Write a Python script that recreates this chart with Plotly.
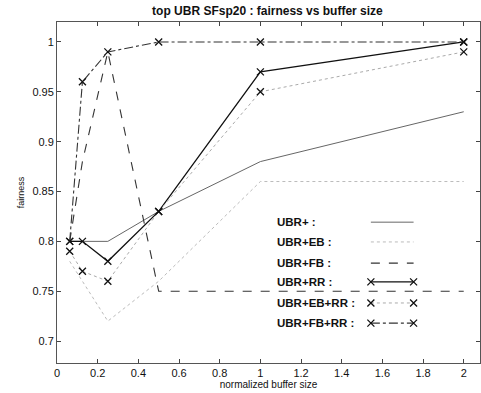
import plotly.graph_objects as go

buffer_size = [0.0625, 0.125, 0.25, 0.5, 1.0, 2.0]
ubr = [0.80, 0.80, 0.80, 0.83, 0.88, 0.93]
ubr_eb = [0.78, 0.76, 0.72, 0.76, 0.86, 0.86]
ubr_fb = [0.80, 0.88, 0.99, 0.75, 0.75, 0.75]
ubr_rr = [0.80, 0.80, 0.78, 0.83, 0.97, 1.00]
ubr_eb_rr = [0.79, 0.77, 0.76, 0.83, 0.95, 0.99]
ubr_fb_rr = [0.80, 0.96, 0.99, 1.00, 1.00, 1.00]

x_ticks = [0, 0.2, 0.4, 0.6, 0.8, 1, 1.2, 1.4, 1.6, 1.8, 2]
x_tick_labels = ["0", "0.2", "0.4", "0.6", "0.8", "1", "1.2", "1.4", "1.6", "1.8", "2"]
y_ticks = [0.7, 0.75, 0.8, 0.85, 0.9, 0.95, 1.0]
y_tick_labels = ["0.7", "0.75", "0.8", "0.85", "0.9", "0.95", "1"]

series = [
    ("UBR+ :", ubr, dict(color="#666666", width=1, dash="solid"), None),
    ("UBR+EB :", ubr_eb, dict(color="#bbbbbb", width=1, dash="dot"), None),
    ("UBR+FB :", ubr_fb, dict(color="#333333", width=1.1, dash="dash"), None),
    ("UBR+RR :", ubr_rr, dict(color="#111111", width=1.3, dash="solid"), "x-thin"),
    ("UBR+EB+RR :", ubr_eb_rr, dict(color="#aaaaaa", width=1, dash="dot"), "x-thin"),
    ("UBR+FB+RR :", ubr_fb_rr, dict(color="#333333", width=1.1, dash="dashdot"), "x-thin"),
]

FONT = "Liberation Sans, Arial, sans-serif"
fig = go.Figure()

for name, vals, line, sym in series:
    fig.add_trace(go.Scatter(
        x=buffer_size, y=vals, name=name,
        mode="lines+markers" if sym else "lines",
        line=line,
        marker=dict(symbol=sym, size=7, line=dict(width=1.3, color="#111111")) if sym else None,
        showlegend=False,
    ))

# legend drawn manually (labels left, sample lines right) on an overlay axis
leg_rows = [0.413, 0.355, 0.293, 0.238, 0.176, 0.117]
for (name, vals, line, sym), yy in zip(series, leg_rows):
    fig.add_trace(go.Scatter(
        x=[0.742, 0.843], y=[yy, yy], xaxis="x2", yaxis="y2",
        mode="lines+markers" if sym else "lines",
        line=line,
        marker=dict(symbol=sym, size=7, line=dict(width=1.3, color="#111111")) if sym else None,
        showlegend=False, hoverinfo="skip",
    ))
    fig.add_annotation(x=0.515, y=yy, xref="paper", yref="paper", text="<b>" + name + "</b>",
                       showarrow=False, xanchor="left", yanchor="middle",
                       font=dict(family=FONT, size=11.5, color="#111111"))

fig.update_layout(
    width=481, height=393,
    margin=dict(l=57, r=1, t=22, b=30),
    paper_bgcolor="white", plot_bgcolor="white",
    title=dict(text="<b>top UBR SFsp20 : fairness vs buffer size</b>", x=0.556, xanchor="center",
               y=0.972, yanchor="middle", font=dict(family=FONT, size=12, color="#111111")),
    xaxis=dict(range=[0, 2.08], tickvals=x_ticks, ticktext=x_tick_labels,
               ticks="inside", ticklen=4, tickcolor="#444", showgrid=False, zeroline=False,
               showline=True, linecolor="#555", linewidth=1, mirror="ticks",
               tickfont=dict(family=FONT, size=11, color="#111"),
               title=dict(text="normalized buffer size", standoff=2,
                          font=dict(family=FONT, size=10, color="#111"))),
    yaxis=dict(range=[0.678, 1.02], tickvals=y_ticks, ticktext=y_tick_labels,
               ticks="inside", ticklen=4, tickcolor="#444", showgrid=False, zeroline=False,
               showline=True, linecolor="#555", linewidth=1, mirror="ticks",
               tickfont=dict(family=FONT, size=11, color="#111"),
               title=dict(text="fairness", standoff=6,
                          font=dict(family=FONT, size=9, color="#111"))),
    xaxis2=dict(overlaying="x", range=[0, 1], visible=False, fixedrange=True),
    yaxis2=dict(overlaying="y", range=[0, 1], visible=False, fixedrange=True),
)

fig.write_html("out.html")
